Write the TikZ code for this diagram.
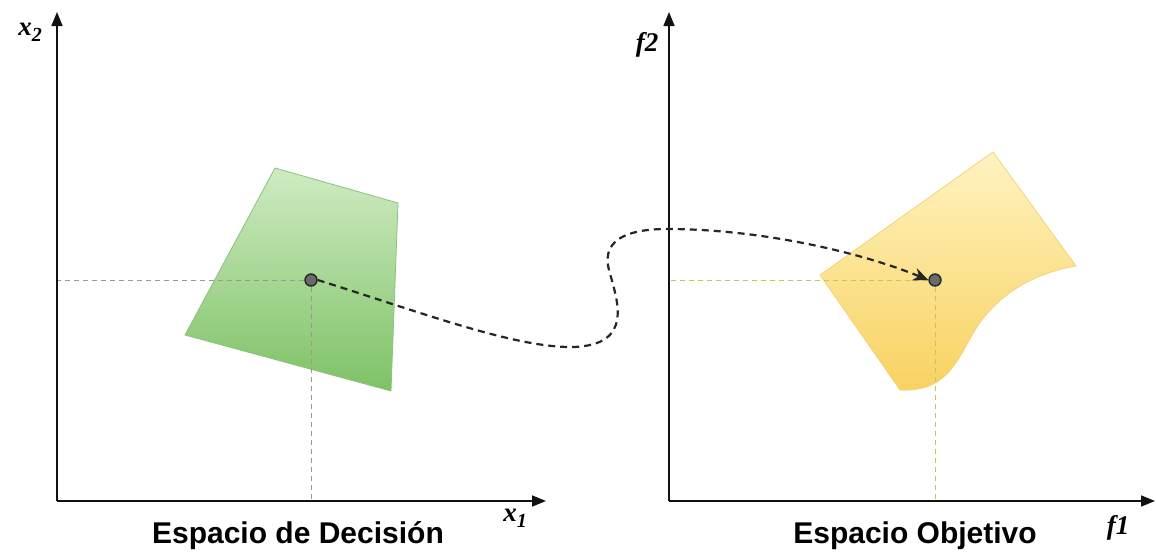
\documentclass[tikz,border=0pt]{standalone}
\usepackage{fontspec}
\setmainfont{Liberation Serif}
\setsansfont{Liberation Sans}
\usetikzlibrary{arrows.meta}
\definecolor{axiscol}{HTML}{111111}
\definecolor{guideL}{HTML}{9A9A8A}
\definecolor{guideR}{HTML}{C8C84A}
\definecolor{greenTop}{HTML}{CFEBC2}
\definecolor{greenBot}{HTML}{7DC265}
\definecolor{greenEdge}{HTML}{8CC27A}
\definecolor{yelTop}{HTML}{FFF3C0}
\definecolor{yelBot}{HTML}{F8D261}
\definecolor{yelEdge}{HTML}{F2D37A}
\definecolor{ptfill}{HTML}{6A6A6A}
\tikzset{
  axisline/.style={draw=axiscol, line width=1.6pt, -{Triangle[length=14pt,width=11pt]}},
  guideline/.style={dashed, dash pattern=on 5pt off 4pt, line width=0.8pt},
  dot/.style={circle, fill=ptfill, draw=black!85, line width=1.4pt, minimum size=12pt, inner sep=0pt},
  mapping/.style={draw=black!85, line width=2.2pt, dash pattern=on 7pt off 5pt, -{Stealth[length=15pt,width=13pt]}},
  axlabel/.style={font=\fontsize{27}{29}\selectfont\bfseries\itshape, inner sep=0pt},
  title/.style={font=\fontsize{30}{33}\selectfont\sffamily\bfseries, inner sep=0pt, anchor=base}
}
\begin{document}
\begin{tikzpicture}[x=1pt,y=-1pt]
\useasboundingbox (0,0) rectangle (1156,552);
% left axes
\coordinate (O1) at (57,501);
\coordinate (Y1) at (57,12);
\coordinate (X1) at (546,501);
% right axes
\coordinate (O2) at (669,501);
\coordinate (Y2) at (669,12);
\coordinate (X2) at (1155,501);

% green region
\shade[top color=greenTop, bottom color=greenBot, draw=greenEdge, line width=0.8pt]
  (275,168) -- (398,203) -- (391,391) -- (185,335) -- cycle;
% yellow region
\shade[shading angle=-40, top color=yelTop, bottom color=yelBot, draw=yelEdge, line width=0.8pt]
  (993,152) -- (1076,266)
  .. controls (1040,272) and (1000,290) .. (975,330)
  .. controls (955,365) and (945,392) .. (900,390)
  -- (820,275) -- cycle;

% points
\node[dot] (p1) at (311,280) {};
\node[dot] (p2) at (935,280) {};

% guides
\draw[guideline, draw=guideL] (p1.west) -- (O1 |- p1);
\draw[guideline, draw=guideL] (p1.south) -- (p1 |- O1);
\draw[guideline, draw=guideR] (p2.west) -- (O2 |- p2);
\draw[guideline, draw=guideR] (p2.south) -- (p2 |- O2);

% axes
\draw[axisline] (O1) -- (Y1);
\draw[axisline] (O1) -- (X1);
\draw[axisline] (O2) -- (Y2);
\draw[axisline] (O2) -- (X2);

% mapping curve
\draw[mapping] (p1.east) .. controls (420,312) and (515,348) .. (573,347)
  .. controls (635,345) and (617,300) .. (609,270)
  .. controls (600,236) and (635,229) .. (667,229)
  .. controls (760,229) and (860,252) .. (p2.west);

% labels
\node[axlabel] (lx2) at (30,32) {x\raisebox{-6pt}{\fontsize{20}{20}\selectfont 2}};
\node[axlabel] (lx1) at (515,518) {x\raisebox{-6pt}{\fontsize{20}{20}\selectfont 1}};
\node[axlabel] (lf2) at (647,45) {f2};
\node[axlabel] (lf1) at (1118,528) {f1};
\node[title] (t1) at (298,543) {Espacio de Decisión};
\node[title] (t2) at (915,543) {Espacio Objetivo};
\end{tikzpicture}
\end{document}
